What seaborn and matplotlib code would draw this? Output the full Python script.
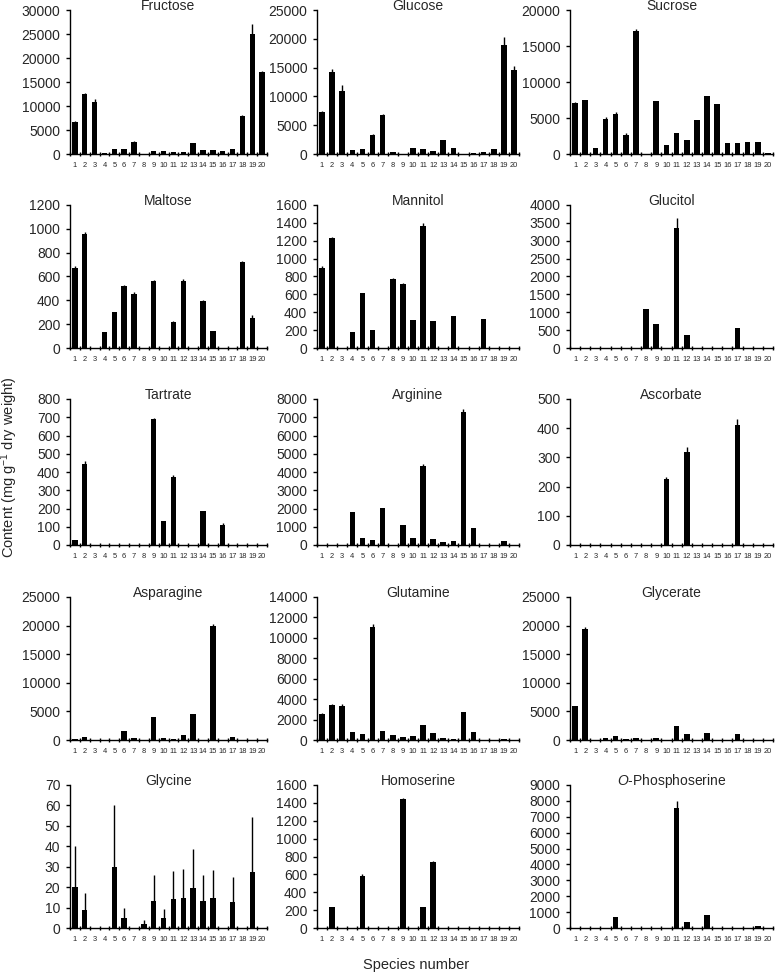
import numpy as np
import pandas as pd
import seaborn as sns
import matplotlib.pyplot as plt

# -------- DATA --------
species = [str(i) for i in range(1, 21)]

fructose = [6700, 12400, 10900, 300, 1100, 1000, 2600, 0, 600, 700,
            500, 400, 2300, 800, 900, 600, 1100, 7900, 25100, 17100]
fructose_err = [200, 300, 500, 0, 0, 0, 200, 0, 0, 0,
                0, 0, 0, 0, 0, 0, 0, 200, 2000, 100]

glucose = [7300, 14200, 11000, 700, 900, 3300, 6700, 300, 0, 1000,
           800, 500, 2500, 1000, 0, 150, 400, 900, 18900, 14600]
glucose_err = [150, 500, 1000, 0, 0, 200, 300, 0, 0, 0,
               0, 0, 0, 0, 0, 0, 0, 0, 1400, 600]

sucrose = [7100, 7500, 900, 4800, 5600, 2700, 17100, 0, 7300, 1300,
           2900, 1900, 4700, 8100, 6900, 1500, 1500, 1700, 1600, 100]
sucrose_err = [100, 0, 0, 300, 300, 150, 200, 0, 100, 0,
               0, 0, 0, 0, 0, 0, 0, 0, 0, 0]

maltose = [670, 955, 0, 135, 305, 520, 455, 0, 565, 0,
           220, 565, 0, 395, 145, 0, 0, 720, 255, 0]
maltose_err = [20, 20, 0, 0, 0, 10, 15, 0, 5, 0,
               5, 10, 0, 10, 0, 0, 0, 10, 20, 0]

mannitol = [890, 1230, 0, 180, 610, 205, 0, 775, 715, 310,
            1370, 300, 0, 360, 0, 0, 320, 0, 0, 0]
mannitol_err = [25, 15, 0, 0, 10, 0, 0, 10, 10, 0,
                30, 0, 0, 0, 0, 0, 5, 0, 0, 0]

glucitol = [0, 0, 0, 0, 0, 0, 0, 1080, 680, 0,
            3350, 370, 0, 0, 0, 0, 550, 0, 0, 0]
glucitol_err = [0, 0, 0, 0, 0, 0, 0, 0, 0, 0,
                300, 0, 0, 0, 0, 0, 0, 0, 0, 0]

tartrate = [30, 445, 0, 0, 0, 0, 0, 0, 690, 130,
            375, 0, 0, 185, 0, 110, 0, 0, 0, 0]
tartrate_err = [0, 15, 0, 0, 0, 0, 0, 0, 5, 0,
                10, 0, 0, 0, 0, 10, 0, 0, 0, 0]

arginine = [0, 0, 0, 1800, 400, 280, 2050, 0, 1080, 380,
            4350, 350, 170, 240, 7300, 930, 0, 0, 230, 0]
arginine_err = [0, 0, 0, 0, 0, 0, 0, 0, 0, 0,
                80, 0, 0, 0, 150, 0, 0, 0, 0, 0]

ascorbate = [0, 0, 0, 0, 0, 0, 0, 0, 0, 225,
             0, 317, 0, 0, 0, 0, 410, 0, 0, 0]
ascorbate_err = [0, 0, 0, 0, 0, 0, 0, 0, 0, 8,
                 0, 20, 0, 0, 0, 0, 20, 0, 0, 0]

asparagine = [200, 500, 0, 0, 0, 1500, 300, 0, 4100, 350,
              200, 800, 4500, 0, 20000, 0, 600, 0, 0, 0]
asparagine_err = [0, 0, 0, 0, 0, 0, 0, 0, 0, 0,
                  0, 0, 0, 0, 300, 0, 0, 0, 0, 0]

glutamine = [2500, 3450, 3350, 750, 550, 11100, 850, 450, 250, 350,
             1500, 700, 200, 100, 2700, 800, 0, 0, 80, 0]
glutamine_err = [150, 100, 150, 0, 0, 300, 0, 0, 0, 0,
                 0, 0, 0, 0, 0, 0, 0, 0, 0, 0]

glycerate = [6000, 19400, 0, 400, 700, 250, 300, 0, 350, 0,
             2500, 1100, 0, 1300, 0, 0, 1100, 0, 0, 0]
glycerate_err = [0, 300, 0, 0, 0, 0, 0, 0, 0, 0,
                 0, 0, 0, 0, 0, 0, 0, 0, 0, 0]

glycine = [20, 9, 0, 0, 30, 5, 0, 2, 13, 5,
           14, 14.5, 19.5, 13, 14.5, 0, 12.5, 0, 27.5, 0]
glycine_err = [20, 8, 0, 0, 30, 5, 0, 2, 13, 4.5,
               14, 14.5, 19, 13, 14, 0, 12.5, 0, 27, 0]

homoserine = [0, 240, 0, 0, 580, 0, 0, 0, 1440, 0,
              230, 740, 0, 0, 0, 0, 0, 0, 0, 0]
homoserine_err = [0, 0, 0, 0, 20, 0, 0, 0, 10, 0,
                  0, 15, 0, 0, 0, 0, 0, 0, 0, 0]

phosphoserine = [0, 0, 0, 0, 700, 0, 0, 0, 0, 0,
                 7550, 400, 0, 800, 0, 0, 0, 0, 150, 0]
phosphoserine_err = [0, 0, 0, 0, 0, 0, 0, 0, 0, 0,
                     450, 0, 0, 0, 0, 0, 0, 0, 0, 0]

panels = [
    ("Fructose", fructose, fructose_err, 30000, 5000),
    ("Glucose", glucose, glucose_err, 25000, 5000),
    ("Sucrose", sucrose, sucrose_err, 20000, 5000),
    ("Maltose", maltose, maltose_err, 1200, 200),
    ("Mannitol", mannitol, mannitol_err, 1600, 200),
    ("Glucitol", glucitol, glucitol_err, 4000, 500),
    ("Tartrate", tartrate, tartrate_err, 800, 100),
    ("Arginine", arginine, arginine_err, 8000, 1000),
    ("Ascorbate", ascorbate, ascorbate_err, 500, 100),
    ("Asparagine", asparagine, asparagine_err, 25000, 5000),
    ("Glutamine", glutamine, glutamine_err, 14000, 2000),
    ("Glycerate", glycerate, glycerate_err, 25000, 5000),
    ("Glycine", glycine, glycine_err, 70, 10),
    ("Homoserine", homoserine, homoserine_err, 1600, 200),
    ("$\\it{O}$-Phosphoserine", phosphoserine, phosphoserine_err, 9000, 1000),
]

# -------- STYLE --------
sns.set_style("ticks")
plt.rcParams["font.family"] = ["Liberation Sans", "DejaVu Sans"]
plt.rcParams["mathtext.fontset"] = "custom"
plt.rcParams["mathtext.rm"] = "Liberation Sans"
plt.rcParams["mathtext.it"] = "Liberation Sans:italic"

W, H = 778, 975
fig = plt.figure(figsize=(W / 100, H / 100), dpi=100)

# panel boxes in pixels
col_lr = [(70, 267), (317, 519), (570, 773)]
row_tb = [(10, 154), (205, 348), (399, 545), (597, 740), (785, 928)]

for i, (name, vals, errs, ymax, step) in enumerate(panels):
    r, c = divmod(i, 3)
    l, rr = col_lr[c]
    t, b = row_tb[r]
    ax = fig.add_axes([l / W, 1 - b / H, (rr - l) / W, (b - t) / H])

    df = pd.DataFrame({"species": species, "value": vals})
    sns.barplot(data=df, x="species", y="value", order=species,
                color="black", width=0.55, errorbar=None,
                saturation=1, edgecolor="black", linewidth=0, ax=ax)
    err = np.array(errs, dtype=float)
    ax.errorbar(np.arange(20), vals, yerr=[np.zeros(20), err],
                fmt="none", ecolor="black", elinewidth=1, capsize=0)

    ax.set_xlim(-0.5, 19.5)
    ax.set_ylim(0, ymax)
    ax.set_yticks(np.arange(0, ymax + step, step))
    ax.set_xlabel("")
    ax.set_ylabel("")
    ax.set_xticks(np.arange(20))
    ax.set_xticklabels(species)
    ax.set_xticks(np.arange(-0.5, 20, 1), minor=True)
    ax.tick_params(axis="x", which="major", length=0, labelsize=5.4, pad=6)
    ax.tick_params(axis="x", which="minor", length=3, width=1,
                   direction="inout", color="black")
    ax.tick_params(axis="y", length=3, width=1, labelsize=10, pad=4,
                   color="black")
    for s in ["top", "right"]:
        ax.spines[s].set_visible(False)
    for s in ["left", "bottom"]:
        ax.spines[s].set_color("black")
        ax.spines[s].set_linewidth(1)
    ax.text(0.5, 1.025, name, transform=ax.transAxes, ha="center",
            va="center", fontsize=10)

fig.text(0.0116, 1 - 467 / H, "Content (mg g$^{-1}$ dry weight)", rotation=90,
         ha="center", va="center", fontsize=10.5)
fig.text(416 / W, 1 - 965 / H, "Species number", ha="center", va="center",
         fontsize=10.5)

fig.savefig("out.png", dpi=100, facecolor="white")
